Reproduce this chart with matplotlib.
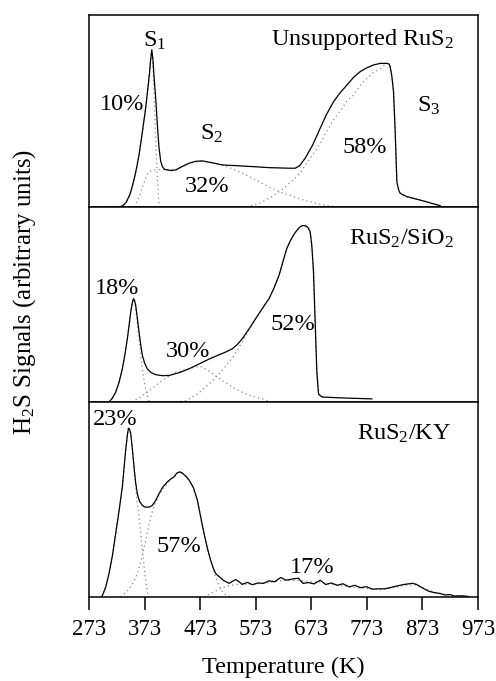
import matplotlib
matplotlib.use("Agg")
import matplotlib.pyplot as plt

plt.rcParams['font.family'] = ['Liberation Serif', 'DejaVu Serif']
plt.rcParams['mathtext.fontset'] = 'custom'
plt.rcParams['mathtext.rm'] = 'Liberation Serif'
plt.rcParams['mathtext.it'] = 'Liberation Serif:italic'
plt.rcParams['mathtext.bf'] = 'Liberation Serif:bold'

FS = 17.5      # annotations / axis labels
FS_TICK = 16.5

# ---- data (arbitrary units, 0-100 per panel) ----
# unsupported RuS2
top_T = [300, 329, 335, 340, 347, 352, 357, 363, 369, 375, 379, 382, 384, 386, 388,
         390, 393, 396, 399, 402, 405, 409, 414, 420, 429, 440, 453, 465, 477, 495,
         513, 540, 570, 597, 633, 644, 652, 662, 675, 689, 700, 713, 725, 737, 749,
         761, 773, 785, 797, 809, 813, 815, 818, 821, 824, 827, 830, 833, 845, 869, 905]
top_y = [0, 0, 1, 2.5, 6.8, 12, 18, 27, 39, 51.6, 62, 70, 77, 81.8, 77,
         68, 56.8, 43, 30.7, 24, 21, 19.6, 19.3, 19, 19.3, 21, 22.8, 23.8, 24, 23,
         21.9, 21.5, 21, 20.5, 20.2, 20.2, 21.5, 25.4, 32, 41, 48, 54.8, 59.5, 63.5, 67.5,
         70.5, 72.5, 74, 74.8, 74.8, 74.5, 73, 68, 60, 39.2, 13.2, 9, 7.1, 5.4, 3.6, 0.7]
top_s1_T = [329, 335, 340, 347, 352, 357, 363, 369, 375, 379, 382, 384, 386, 388, 390, 393, 396, 398, 400]
top_s1_y = [0, 1, 2.5, 6.8, 12, 18, 27, 39, 51.6, 62, 70, 77, 81.8, 74, 60, 35, 15, 5, 0]
top_s2_T = [355, 360, 363, 370, 377, 385, 395, 405, 414, 429, 453, 477, 513, 530, 545,
            560, 580, 600, 620, 640, 660, 680, 700, 720]
top_s2_y = [0, 3, 5, 11, 17, 19, 19.5, 19.5, 19.3, 19.3, 22.8, 24, 21.9, 20, 18,
            16, 13, 10, 7.5, 5.5, 3.5, 2, 0.8, 0]
top_s3_T = [557, 580, 600, 620, 640, 653, 670, 689, 700, 712, 725, 737, 748, 760, 773,
            785, 797, 805, 809, 813, 815, 818, 821, 824, 827, 833, 845, 869, 900]
top_s3_y = [0, 2, 5, 9, 14, 17.7, 25, 33, 39, 45, 50, 55, 58, 63, 67,
            70, 72, 74, 74.8, 74.5, 73, 68, 60, 39.2, 13.2, 7.1, 5.4, 3.6, 1]

# RuS2/SiO2
mid_T = [309, 315, 321, 327, 333, 338, 342, 345, 348, 351, 353, 355, 357, 360, 363,
         366, 369, 373, 378, 385, 393, 405, 417, 435, 453, 471, 489, 505, 519, 531,
         540, 549, 561, 573, 585, 597, 606, 615, 622, 629, 635, 641, 647, 653, 658,
         662, 667, 671, 674, 677, 680, 683, 686, 690, 695, 737, 782]
mid_y = [0, 2, 5, 10, 17, 25, 32.5, 39, 46, 51, 53, 52, 49.6, 43, 36,
         29.5, 24, 20, 17, 15, 14, 13.5, 13.6, 15, 17, 19.5, 22, 24, 25.6, 27.3,
         29.5, 32.5, 37.5, 42.8, 48, 53, 58.5, 65, 72, 78.8, 82.5, 85.6, 88, 89.9, 90.5,
         90.4, 89.5, 87.3, 80, 66.7, 41, 15.3, 4.2, 3, 2.5, 2, 1.6]
mid_s1_T = [309, 315, 321, 327, 333, 338, 342, 345, 348, 351, 353, 355, 357, 360, 363,
            366, 368, 372, 377, 382]
mid_s1_y = [0, 2, 5, 10, 17, 25, 32.5, 39, 46, 51, 53, 51.5, 48, 40, 32,
            24.5, 19, 11, 4, 0]
mid_s2_T = [350, 365, 380, 393, 410, 429, 453, 465, 476, 488, 500, 518, 536, 560, 585, 600]
mid_s2_y = [0, 2.5, 5.5, 8.5, 12, 15.3, 17, 18, 18, 16, 13.6, 10, 6.8, 3.5, 1.6, 0]
mid_s3_T = [430, 449, 470, 496, 515, 532, 545, 557, 566, 575, 585, 597, 606, 615, 622,
            629, 635, 641, 647, 653, 658, 662, 667, 671, 674, 677, 680, 683, 686, 695]
mid_s3_y = [0, 0.8, 4.5, 11, 17, 23, 29, 35, 39.5, 43.6, 48, 53, 58.5, 65, 72,
            78.8, 82.5, 85.6, 88, 89.9, 90.5, 90.4, 89.5, 87.3, 80, 66.7, 41, 15.3, 4.2, 2]

# RuS2/KY
bot_T = [296, 303, 309, 315, 321, 327, 333, 336, 339, 342, 344, 346, 348, 351, 354,
         357, 360, 364, 369, 373, 378, 383, 387, 393, 399, 406, 414, 420, 426, 431,
         436, 441, 447, 453, 461, 468, 474, 480, 486, 492, 497, 501, 505, 515, 525,
         537, 549, 558, 567, 577, 587, 597, 607, 618, 628, 640, 650, 658, 668, 678,
         689, 699, 709, 720, 730, 741, 751, 762, 772, 783, 793, 805, 815, 825, 839,
         855, 862, 872, 884, 895, 905, 914, 922, 930, 945, 955]
bot_y = [0, 5, 12, 21, 32.6, 44, 56.5, 66, 75.3, 83, 86.5, 86, 84, 76, 66.8,
         58.5, 53, 49, 47, 46.2, 46, 46.3, 47, 49.5, 53, 56.5, 59, 60.5, 61.6, 63.5,
         64.2, 63.5, 62, 60, 56, 49.7, 41, 32.6, 25, 18.8, 14.5, 12, 11, 8.5, 7.0,
         9.0, 6.5, 7.5, 6.3, 7.2, 7.0, 8.3, 7.8, 10.0, 8.6, 9.3, 9.6, 7.0, 7.4, 6.7,
         8.6, 6.4, 7.2, 6.0, 6.8, 5.2, 6.0, 4.8, 5.3, 4.0, 4.2, 4.2, 4.8, 5.5, 6.4,
         7.0, 6.5, 4.8, 3.0, 2.2, 1.8, 1.0, 1.3, 0.5, 0.6, 0.3]
bot_p1_T = [296, 303, 309, 315, 321, 327, 333, 336, 339, 342, 344, 346, 348, 351, 354,
            357, 359, 362, 365, 368, 371, 374, 377, 380]
bot_p1_y = [0, 5, 12, 21, 32.6, 44, 56.5, 66, 75.3, 83, 86.5, 86, 84, 76, 66,
            58, 50, 43, 36, 27, 19, 11, 5, 0]
bot_p2_T = [330, 345, 353, 360, 366, 372, 378, 385, 392, 399, 406, 414, 420, 426, 431,
            436, 441, 447, 453, 461, 468, 474, 480, 486, 492, 497, 501, 505, 510, 515,
            520, 532]
bot_p2_y = [0, 4, 7.5, 12, 18, 25, 33, 42, 48, 52, 55.5, 58, 60.5, 61.6, 63.5,
            64.2, 63.5, 62, 60, 56, 49.7, 41, 32.6, 25, 18.8, 14, 10, 7, 4, 2,
            1, 0]
bot_p3_T = [480, 500, 520, 540, 570, 600, 620, 650, 690, 720, 760, 800, 840, 860, 880, 900, 930, 960]
bot_p3_y = [0, 3, 5.5, 6.5, 6.5, 7.5, 8.5, 8.5, 7.5, 6, 4.5, 3.8, 5.8, 6.2, 4, 2, 0.5, 0]

xticks = [273, 373, 473, 573, 673, 773, 873, 973]

panels = [
    (top_T, top_y, [(top_s1_T, top_s1_y), (top_s2_T, top_s2_y), (top_s3_T, top_s3_y)]),
    (mid_T, mid_y, [(mid_s1_T, mid_s1_y), (mid_s2_T, mid_s2_y), (mid_s3_T, mid_s3_y)]),
    (bot_T, bot_y, [(bot_p1_T, bot_p1_y), (bot_p2_T, bot_p2_y), (bot_p3_T, bot_p3_y)]),
]

fig = plt.figure(figsize=(4.96, 6.81), dpi=100)
gs = fig.add_gridspec(3, 1, height_ratios=[192, 195, 195], hspace=0,
                      left=89/496, right=478/496, top=1-15/681, bottom=1-597/681)
axes = [fig.add_subplot(gs[i]) for i in range(3)]

for ax, (T, y, comps) in zip(axes, panels):
    for cT, cy in comps:
        ax.plot(cT, cy, color='#8a8a8a', lw=0.9, ls=(0, (1, 2.5)))
    ax.plot(T, y, color='black', lw=0.9)
    ax.set_xlim(273, 973)
    ax.set_ylim(0, 100)
    ax.set_yticks([])
    for s in ax.spines.values():
        s.set_linewidth(1.1)

for ax in axes[:2]:
    ax.set_xticks([])

axb = axes[2]
axb.set_xticks(xticks)
axb.set_xticklabels([str(t) for t in xticks], fontsize=FS_TICK)
axb.tick_params(axis='x', direction='out', length=9, width=1.1, pad=7)
axb.set_xlabel('Temperature (K)', fontsize=FS, labelpad=12)

# panel annotations
a = axes[0]
a.text(930, 84.4, 'Unsupported RuS$_2$', ha='right', va='baseline', fontsize=FS)
a.text(391, 83.5, 'S$_1$', ha='center', va='baseline', fontsize=FS)
a.text(332, 50.5, '10%', ha='center', va='baseline', fontsize=FS)
a.text(494, 35, 'S$_2$', ha='center', va='baseline', fontsize=FS)
a.text(486, 8, '32%', ha='center', va='baseline', fontsize=FS)
a.text(770, 28, '58%', ha='center', va='baseline', fontsize=FS)
a.text(885, 49.6, 'S$_3$', ha='center', va='baseline', fontsize=FS)

a = axes[1]
a.text(930, 80.5, 'RuS$_2$/SiO$_2$', ha='right', va='baseline', fontsize=FS)
a.text(324, 55.6, '18%', ha='center', va='baseline', fontsize=FS)
a.text(451, 23, '30%', ha='center', va='baseline', fontsize=FS)
a.text(639, 36.8, '52%', ha='center', va='baseline', fontsize=FS)

a = axes[2]
a.text(925, 80.8, 'RuS$_2$/KY', ha='right', va='baseline', fontsize=FS)
a.text(321, 88.2, '23%', ha='center', va='baseline', fontsize=FS)
a.text(434, 23, '57%', ha='center', va='baseline', fontsize=FS)
a.text(674, 12.3, '17%', ha='center', va='baseline', fontsize=FS)

fig.text(25/496, 1-292/681, 'H$_2$S Signals (arbitrary units)', rotation=90,
         ha='center', va='center', fontsize=18)

plt.savefig('out.png', dpi=100)
plt.close()
